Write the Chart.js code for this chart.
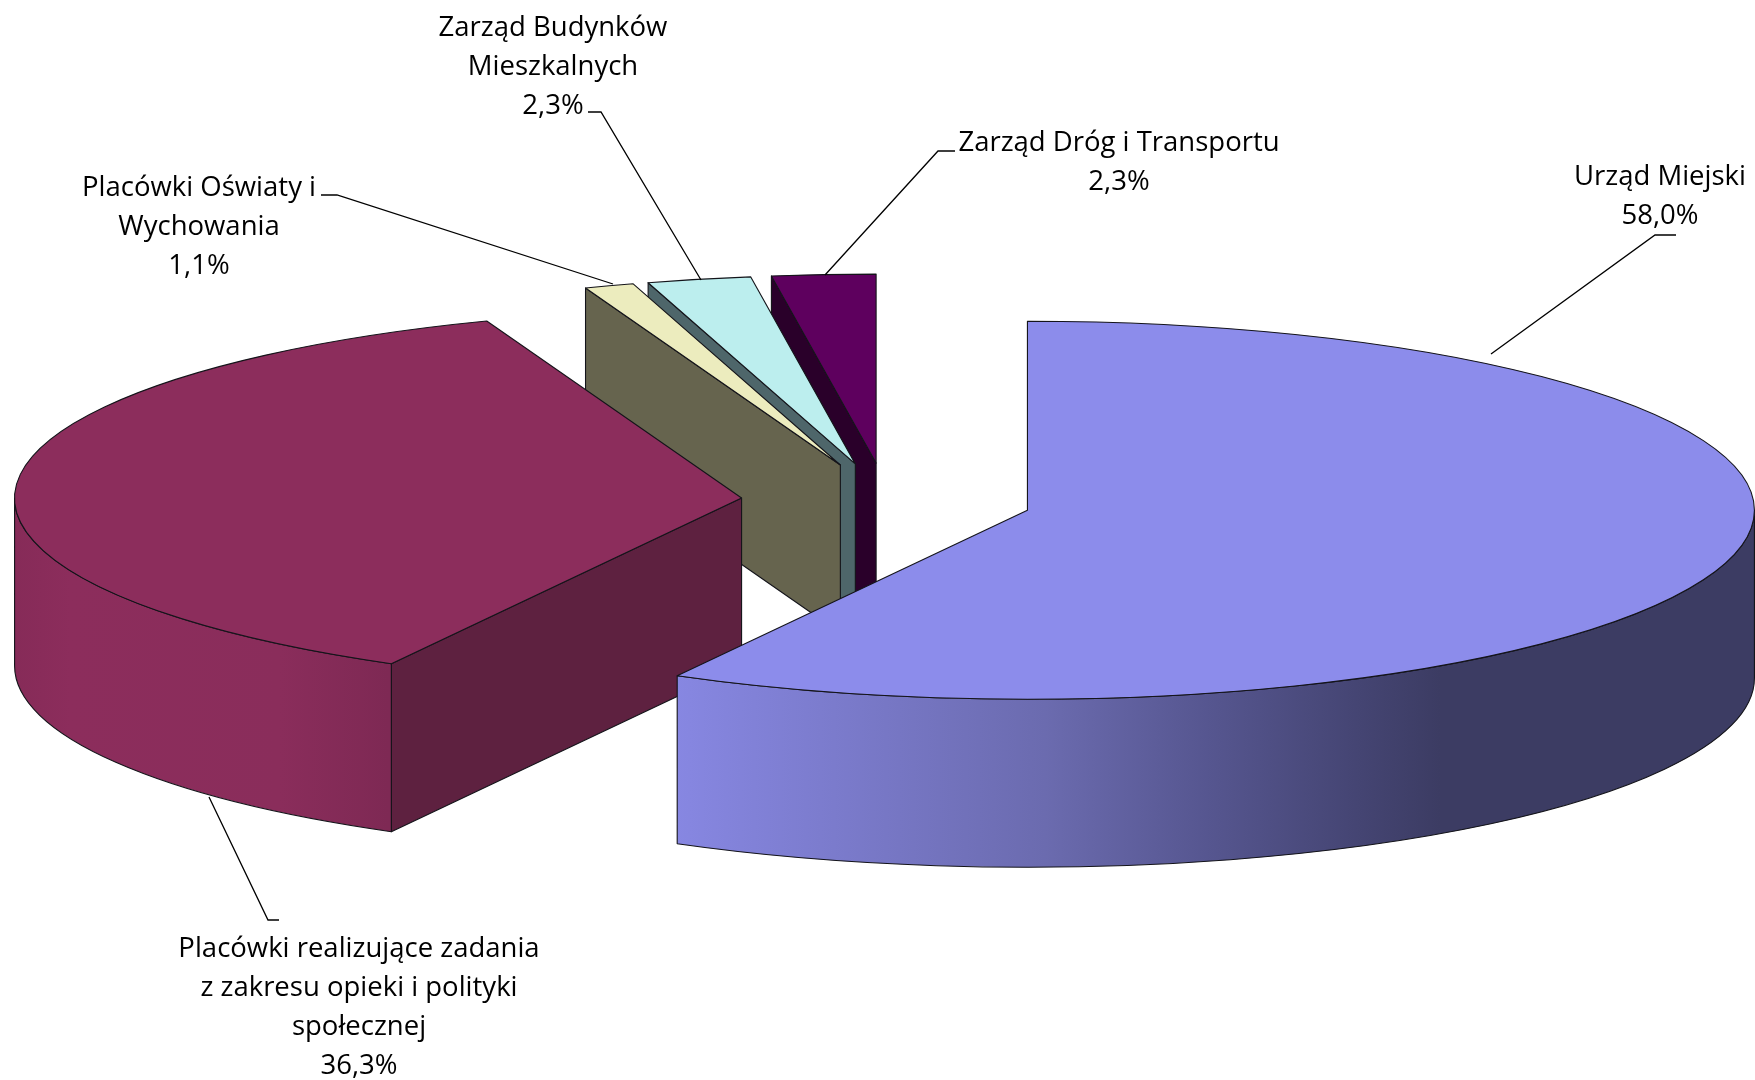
<!DOCTYPE html>
<html lang="pl">
<head>
<meta charset="utf-8">
<title>Struktura wydatków</title>
<style>
html,body{margin:0;padding:0;background:#fff;overflow:hidden}
#wrap{position:relative;width:1755px;height:1080px}
</style>
<script src="https://cdn.jsdelivr.net/npm/chart.js@4"></script>
</head>
<body>
<div id="wrap"><canvas id="c"></canvas></div>
<script>
// ---- data ----
const categories = [
  ["Urząd Miejski"],
  ["Placówki realizujące zadania", "z zakresu opieki i polityki", "społecznej"],
  ["Placówki Oświaty i", "Wychowania"],
  ["Zarząd Budynków", "Mieszkalnych"],
  ["Zarząd Dróg i Transportu"]
];
const shares = [58.0, 36.3, 1.1, 2.3, 2.3];

// ---- styling ----
const topColors = ["#8C8CEB", "#8C2D5C", "#ECECBE", "#BCEEEE", "#5E005E"];
const radialWallColors = ["#3C3C64", "#5E2140", "#66644E", "#4E666A", "#2A002A"];
const outerWallStops = [
  [[675, "#8787E2"], [1045, "#6B6BAF"], [1207, "#565690"], [1373, "#434370"], [1440, "#3C3C63"]],
  [[14, "#862B58"], [70, "#8C2D5C"], [280, "#8A2D5B"], [388, "#7E2954"]],
  [[0, "#66644E"]], [[0, "#4E666A"]], [[0, "#2A002A"]]
];
// projection of the flat pie into the oblique view
const view = {cx: 886.6, cy: 500.8, rx: 727, ry: 189, depth: 168, explode: 0.2};
// label placement: centre x, first baseline, leader polyline
const labelLayout = [
  {x: 1660, y: 184.5, leader: [[1676, 235], [1655, 235], [1491, 354]]},
  {x: 359,  y: 956.5, leader: [[209, 797], [268, 920], [279, 920]]},
  {x: 199,  y: 195.5, leader: [[321, 195], [337, 195], [613, 284]]},
  {x: 553,  y: 35.5,  leader: [[588, 112], [601, 112], [701, 280]]},
  {x: 1119, y: 150.5, leader: [[955, 151], [938, 151], [825, 275]]}
];
const lineGap = 39.2;
const labelFont = '27.5px "Open Sans"';
const edgeColor = "#14141a";

const fmtPct = v => v.toFixed(1).replace('.', ',') + '%';

const solidPie = {
  id: 'solidPie',
  beforeDatasetDraw(chart, args) {
    const ctx = chart.ctx;
    const meta = chart.getDatasetMeta(args.index);
    const pieces = meta.data.map((arc, i) => {
      const p = arc.getProps(['x', 'y', 'startAngle', 'endAngle', 'outerRadius'], true);
      const mid = (p.startAngle + p.endAngle) / 2;
      return {
        i, arc, p, mid,
        ox: view.cx + view.rx * view.explode * Math.cos(mid),
        oy: view.cy + view.ry * view.explode * Math.sin(mid)
      };
    }).sort((a, b) => Math.sin(a.mid) - Math.sin(b.mid));   // back to front

    ctx.save();
    ctx.lineWidth = 1.1;
    ctx.strokeStyle = edgeColor;
    ctx.lineJoin = 'round';
    for (const s of pieces) {
      const {ox, oy, p, arc, i} = s;
      const a0 = p.startAngle, a1 = p.endAngle;
      const px = a => ox + view.rx * Math.cos(a);
      const py = a => oy + view.ry * Math.sin(a);

      // radial wall of the slice's leading edge
      if (Math.cos(a0) < -1e-6) {
        ctx.beginPath();
        ctx.moveTo(ox, oy);
        ctx.lineTo(px(a0), py(a0));
        ctx.lineTo(px(a0), py(a0) + view.depth);
        ctx.lineTo(ox, oy + view.depth);
        ctx.closePath();
        ctx.fillStyle = radialWallColors[i];
        ctx.fill();
        ctx.stroke();
      }
      // curved outer wall, the part that faces the viewer
      const w0 = Math.max(a0, 0), w1 = Math.min(a1, Math.PI);
      if (w1 > w0) {
        const stops = outerWallStops[i];
        const g = ctx.createLinearGradient(stops[0][0], 0, stops[stops.length - 1][0] + 1, 0);
        const span = stops[stops.length - 1][0] + 1 - stops[0][0];
        stops.forEach(st => g.addColorStop((st[0] - stops[0][0]) / span, st[1]));
        ctx.beginPath();
        ctx.ellipse(ox, oy, view.rx, view.ry, 0, w0, w1, false);
        ctx.lineTo(px(w1), py(w1) + view.depth);
        ctx.ellipse(ox, oy + view.depth, view.rx, view.ry, 0, w1, w0, true);
        ctx.closePath();
        ctx.fillStyle = g;
        ctx.fill();
        ctx.stroke();
      }
      // top face: the library's own arc, squashed into the view
      ctx.save();
      ctx.translate(ox, oy);
      ctx.scale(view.rx / p.outerRadius, view.ry / p.outerRadius);
      ctx.translate(-p.x, -p.y);
      arc.draw(ctx);
      ctx.restore();
      ctx.beginPath();
      ctx.moveTo(ox, oy);
      ctx.ellipse(ox, oy, view.rx, view.ry, 0, a0, a1, false);
      ctx.closePath();
      ctx.stroke();
    }
    ctx.restore();
    return false;
  },
  afterDraw(chart) {
    const ctx = chart.ctx;
    ctx.save();
    ctx.font = labelFont;
    ctx.textAlign = 'center';
    ctx.textBaseline = 'alphabetic';
    ctx.fillStyle = '#000';
    const vals = chart.data.datasets[0].data;
    chart.data.labels.forEach((lines, i) => {
      const l = labelLayout[i];
      [...lines, fmtPct(vals[i])].forEach((t, k) => ctx.fillText(t, l.x, l.y + k * lineGap));
      ctx.beginPath();
      l.leader.forEach((pt, k) => k ? ctx.lineTo(pt[0], pt[1]) : ctx.moveTo(pt[0], pt[1]));
      ctx.strokeStyle = '#000';
      ctx.lineWidth = 1.3;
      ctx.stroke();
    });
    ctx.restore();
  }
};

new Chart(document.getElementById('c'), {
  type: 'pie',
  data: {
    labels: categories,
    datasets: [{data: shares, backgroundColor: topColors, borderWidth: 0}]
  },
  options: {
    responsive: true,
    maintainAspectRatio: false,
    animation: false,
    events: [],
    layout: {padding: 0},
    plugins: {legend: {display: false}, tooltip: {enabled: false}}
  },
  plugins: [solidPie]
});
</script>
</body>
</html>
